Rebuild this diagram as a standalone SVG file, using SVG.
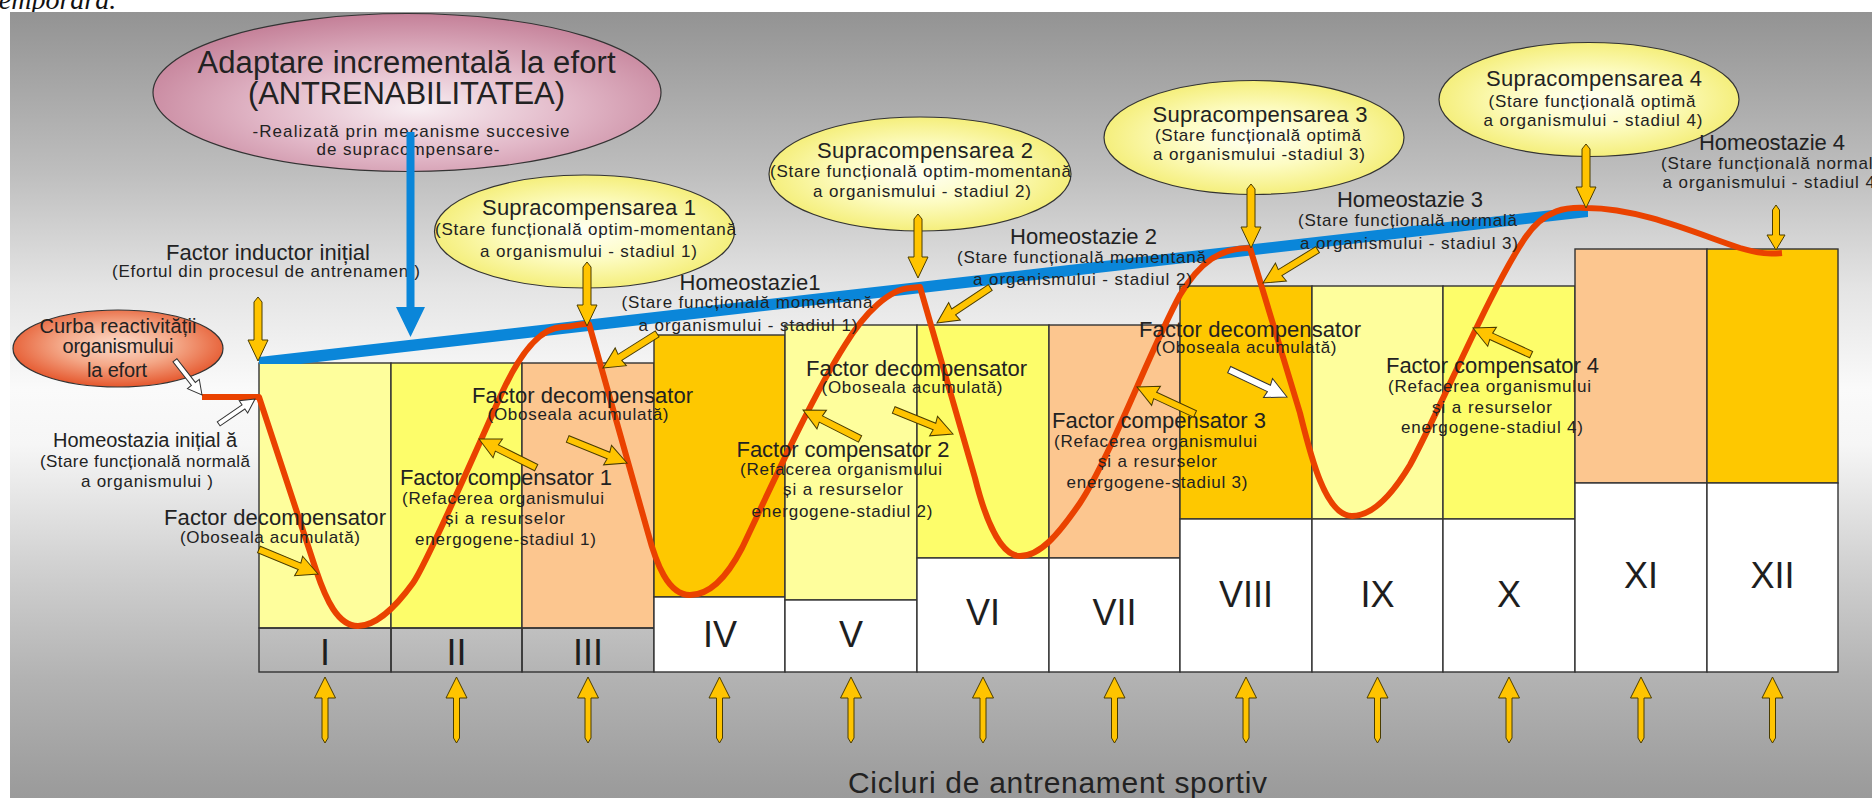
<svg xmlns="http://www.w3.org/2000/svg" width="1872" height="798" viewBox="0 0 1872 798">
<style>
  .t{font-family:"Liberation Sans",Arial,Helvetica,sans-serif;fill:#222;text-anchor:middle}
  .h{font-size:22px}
  .s{font-size:17px}
  .c{font-size:20px}
  .big{font-size:31px}
  .num{font-size:36px;fill:#1e1e1e}
  .col{stroke:#333;stroke-width:1.4}
  .pale{fill:#fefe9c}
  .yel{fill:#fdfd6a}
  .peach{fill:#fcc68f}
  .orange{fill:#fec800}
  .base{fill:#fff}
  .strip{fill:none}
  .ya{fill:#ffc400;stroke:#4a3c00;stroke-width:1}
  .wa{fill:#fff;stroke:#333;stroke-width:1}
  .ell{stroke:#333;stroke-width:1.2}
  .curve{fill:none;stroke:#ea4200;stroke-width:6;stroke-linejoin:round}
</style>
<defs>
  <linearGradient id="bg" x1="0" y1="12" x2="0" y2="798" gradientUnits="userSpaceOnUse">
    <stop offset="0" stop-color="#939393"/>
    <stop offset="0.2" stop-color="#bdbdbd"/>
    <stop offset="0.35" stop-color="#e4e4e4"/>
    <stop offset="0.48" stop-color="#fafafa"/>
    <stop offset="0.55" stop-color="#f6f6f6"/>
    <stop offset="0.7" stop-color="#d2d2d2"/>
    <stop offset="0.85" stop-color="#b2b2b2"/>
    <stop offset="1" stop-color="#9a9a9a"/>
  </linearGradient>
  <radialGradient id="gPink" cx="0.52" cy="0.6" r="0.6">
    <stop offset="0" stop-color="#f8eef2"/>
    <stop offset="0.5" stop-color="#e2b8c8"/>
    <stop offset="1" stop-color="#c48098"/>
  </radialGradient>
  <radialGradient id="gYellow" cx="0.5" cy="0.5" r="0.55">
    <stop offset="0" stop-color="#fffff4"/>
    <stop offset="0.45" stop-color="#fdfcc4"/>
    <stop offset="1" stop-color="#f3ec6e"/>
  </radialGradient>
  <radialGradient id="gCurba" cx="0.5" cy="0.45" r="0.55">
    <stop offset="0" stop-color="#fcdccc"/>
    <stop offset="0.5" stop-color="#f4a888"/>
    <stop offset="1" stop-color="#e5572d"/>
  </radialGradient>
  <!-- arrow shapes: tip at the origin -->
  <path id="arrDown" d="M0,0 L-10,-21 L-4,-21 L-4,-59 L0,-64 L4,-59 L4,-21 L10,-21 Z"/>
  <path id="arrDownS" d="M0,0 L-9,-15 L-3.5,-15 L-3.5,-40 L0,-45 L3.5,-40 L3.5,-15 L9,-15 Z"/>
  <path id="arrUp" d="M0,0 L10.5,21 L3,21 L3,61 L0,66 L-3,61 L-3,21 L-10.5,21 Z"/>
  <path id="arrBlock" d="M0,0 L-21,-10.5 L-20,-3.5 L-64,-3.5 L-64,3.5 L-20,3.5 L-21,10.5 Z"/>
  <path id="arrSmall" d="M0,0 L-14,-7.5 L-14,-2.5 L-44,-2.5 L-44,2.5 L-14,2.5 L-14,7.5 Z"/>
</defs>

<rect x="0" y="0" width="1872" height="798" fill="#fff"/>
<text x="-9" y="9" font-family="'Liberation Serif','Times New Roman',serif" font-style="italic" font-size="28" fill="#111">temporară.</text>
<rect x="10" y="12" width="1862" height="786" fill="url(#bg)"/>

<!-- training cycles -->
<g id="col-I">
  <rect class="col pale" x="259" y="363" width="132" height="265"/>
  <rect class="col strip" x="259" y="628" width="132" height="44"/>
  <text class="t num" x="325" y="665">I</text>
</g>
<g id="col-II">
  <rect class="col yel" x="391" y="363" width="131" height="265"/>
  <rect class="col strip" x="391" y="628" width="131" height="44"/>
  <text class="t num" x="456.5" y="665">II</text>
</g>
<g id="col-III">
  <rect class="col peach" x="522" y="363" width="132" height="265"/>
  <rect class="col strip" x="522" y="628" width="132" height="44"/>
  <text class="t num" x="588" y="665">III</text>
</g>
<g id="col-IV">
  <rect class="col orange" x="654" y="335" width="131" height="262"/>
  <rect class="col base" x="654" y="597" width="131" height="75"/>
  <text class="t num" x="720" y="647">IV</text>
</g>
<g id="col-V">
  <rect class="col pale" x="785" y="325" width="132" height="275"/>
  <rect class="col base" x="785" y="600" width="132" height="72"/>
  <text class="t num" x="851" y="647">V</text>
</g>
<g id="col-VI">
  <rect class="col yel" x="917" y="325" width="132" height="233"/>
  <rect class="col base" x="917" y="558" width="132" height="114"/>
  <text class="t num" x="983" y="625">VI</text>
</g>
<g id="col-VII">
  <rect class="col peach" x="1049" y="325" width="131" height="233"/>
  <rect class="col base" x="1049" y="558" width="131" height="114"/>
  <text class="t num" x="1114.5" y="625">VII</text>
</g>
<g id="col-VIII">
  <rect class="col orange" x="1180" y="286" width="132" height="233"/>
  <rect class="col base" x="1180" y="519" width="132" height="153"/>
  <text class="t num" x="1246" y="607">VIII</text>
</g>
<g id="col-IX">
  <rect class="col pale" x="1312" y="286" width="131" height="233"/>
  <rect class="col base" x="1312" y="519" width="131" height="153"/>
  <text class="t num" x="1377.5" y="607">IX</text>
</g>
<g id="col-X">
  <rect class="col yel" x="1443" y="286" width="132" height="233"/>
  <rect class="col base" x="1443" y="519" width="132" height="153"/>
  <text class="t num" x="1509" y="607">X</text>
</g>
<g id="col-XI">
  <rect class="col peach" x="1575" y="249" width="132" height="234"/>
  <rect class="col base" x="1575" y="483" width="132" height="189"/>
  <text class="t num" x="1641" y="588">XI</text>
</g>
<g id="col-XII">
  <rect class="col orange" x="1707" y="249" width="131" height="234"/>
  <rect class="col base" x="1707" y="483" width="131" height="189"/>
  <text class="t num" x="1772.5" y="588">XII</text>
</g>

<!-- trend of adaptation -->
<g id="trend">
  <polygon points="259,357 1588,206 1588,217 300,364 259,364" fill="#0a86d9"/>
</g>

<!-- reactivity curve -->
<g id="curve">
  <path class="curve" d="M202,397 H259 L316,570 C326,600 338,626 358,626 C375,626 395,608 413,583 C425,566 470,465 500,397 C520,352 540,328 562,327 C575,327 580,323 589,324 L648,533 C656,563 668,595 690,595 C710,595 728,575 742,548 C765,500 810,400 845,345 C865,312 890,289 910,288 L920,287 L975,478 C985,518 1000,556 1020,556 C1040,556 1058,535 1080,503 C1110,458 1150,350 1180,295 C1200,262 1220,248 1250,248 L1300,413 C1310,453 1325,516 1352,516 C1375,516 1395,490 1410,465 C1440,410 1490,290 1525,238 C1545,208 1568,207 1587,208 C1640,208 1700,235 1740,248 C1760,254 1770,254 1782,253"/>
</g>

<!-- labels -->
<g id="adaptare">
  <ellipse class="ell" cx="407" cy="92.5" rx="254" ry="79" fill="url(#gPink)"/>
  <text class="t big" x="406.5" y="73" textLength="418">Adaptare incrementală la efort</text>
  <text class="t big" x="406.5" y="104" textLength="317">(ANTRENABILITATEA)</text>
  <text class="t s" x="411" y="137" textLength="317">-Realizată prin mecanisme succesive</text>
  <text class="t s" x="408" y="155" textLength="183">de supracompensare-</text>
</g>
<g id="curba">
  <ellipse class="ell" cx="118" cy="348.5" rx="105" ry="38.5" fill="url(#gCurba)"/>
  <text class="t c" x="118" y="333" textLength="157">Curba reactivității</text>
  <text class="t c" x="118" y="353" textLength="111">organismului</text>
  <text class="t c" x="117" y="376.5" textLength="60">la efort</text>
</g>
<g id="inductor">
  <text class="t h" x="268" y="259.5" textLength="204">Factor inductor inițial</text>
  <text class="t s" x="266" y="277" textLength="308">(Efortul din procesul de antrenament)</text>
</g>
<g id="homeo0">
  <text class="t c" x="145" y="446.5" textLength="184">Homeostazia inițial ă</text>
  <text class="t s" x="145" y="466.5" textLength="210">(Stare funcțională normală</text>
  <text class="t s" x="147" y="486.5" textLength="132">a organismului )</text>
</g>
<g id="decomp1">
  <text class="t h" x="275" y="525" textLength="222">Factor decompensator</text>
  <text class="t s" x="270" y="543" textLength="180">(Oboseala acumulată)</text>
</g>
<g id="comp1">
  <text class="t h" x="506" y="485" textLength="212">Factor compensator 1</text>
  <text class="t s" x="503" y="503.5" textLength="202">(Refacerea organismului</text>
  <text class="t s" x="505" y="524" textLength="120">și a resurselor</text>
  <text class="t s" x="505.5" y="545" textLength="181">energogene-stadiul 1)</text>
</g>
<g id="decomp2">
  <text class="t h" x="582.5" y="402.5" textLength="221">Factor decompensator</text>
  <text class="t s" x="578" y="420" textLength="181">(Oboseala acumulată)</text>
</g>
<g id="supra1">
  <ellipse class="ell" cx="584.5" cy="231.5" rx="150" ry="56.5" fill="url(#gYellow)"/>
  <text class="t h" x="589" y="215" textLength="214">Supracompensarea 1</text>
  <text class="t s" x="585.5" y="235" textLength="301">(Stare funcțională optim-momentană</text>
  <text class="t s" x="588.5" y="257" textLength="217">a organismului - stadiul 1)</text>
</g>
<g id="homeo1">
  <text class="t h" x="750" y="290" textLength="141">Homeostazie1</text>
  <text class="t s" x="747" y="308" textLength="251">(Stare funcțională momentană</text>
  <text class="t s" x="748" y="331" textLength="219">a organismului - stadiul 1)</text>
</g>
<g id="comp2">
  <text class="t h" x="843" y="456.5" textLength="213">Factor compensator 2</text>
  <text class="t s" x="841" y="475" textLength="202">(Refacerea organismului</text>
  <text class="t s" x="843" y="495" textLength="120">și a resurselor</text>
  <text class="t s" x="842" y="516.5" textLength="181">energogene-stadiul 2)</text>
</g>
<g id="decomp3">
  <text class="t h" x="916.5" y="376" textLength="221">Factor decompensator</text>
  <text class="t s" x="912" y="393.3" textLength="181">(Oboseala acumulată)</text>
</g>
<g id="supra2">
  <ellipse class="ell" cx="920" cy="174" rx="151" ry="57" fill="url(#gYellow)"/>
  <text class="t h" x="925" y="158" textLength="216">Supracompensarea 2</text>
  <text class="t s" x="920.5" y="177" textLength="301">(Stare funcțională optim-momentană</text>
  <text class="t s" x="922" y="197" textLength="218">a organismului - stadiul 2)</text>
</g>
<g id="homeo2">
  <text class="t h" x="1083.5" y="244" textLength="147">Homeostazie 2</text>
  <text class="t s" x="1081.5" y="262.7" textLength="249">(Stare funcțională momentană</text>
  <text class="t s" x="1082.5" y="285" textLength="219">a organismului - stadiul 2)</text>
</g>
<g id="comp3">
  <text class="t h" x="1159" y="428" textLength="214">Factor compensator 3</text>
  <text class="t s" x="1155.5" y="446.7" textLength="203">(Refacerea organismului</text>
  <text class="t s" x="1157.5" y="467" textLength="119">și a resurselor</text>
  <text class="t s" x="1157" y="488" textLength="181">energogene-stadiul 3)</text>
</g>
<g id="decomp4">
  <text class="t h" x="1250" y="336.7" textLength="222">Factor decompensator</text>
  <text class="t s" x="1246" y="352.5" textLength="181">(Oboseala acumulată)</text>
</g>
<g id="supra3">
  <ellipse class="ell" cx="1254" cy="137.5" rx="150" ry="57" fill="url(#gYellow)"/>
  <text class="t h" x="1260" y="122" textLength="215">Supracompensarea 3</text>
  <text class="t s" x="1258" y="141" textLength="206">(Stare funcțională optimă</text>
  <text class="t s" x="1259" y="160" textLength="212">a organismului -stadiul 3)</text>
</g>
<g id="homeo3">
  <text class="t h" x="1410" y="206.7" textLength="146">Homeostazie 3</text>
  <text class="t s" x="1407.5" y="226" textLength="219">(Stare funcțională normală</text>
  <text class="t s" x="1409" y="249.3" textLength="218">a organismului - stadiul 3)</text>
</g>
<g id="comp4">
  <text class="t h" x="1492.5" y="373.3" textLength="213">Factor compensator 4</text>
  <text class="t s" x="1489.5" y="391.7" textLength="203">(Refacerea organismului</text>
  <text class="t s" x="1492" y="412.7" textLength="120">și a resurselor</text>
  <text class="t s" x="1492" y="433.3" textLength="182">energogene-stadiul 4)</text>
</g>
<g id="supra4">
  <ellipse class="ell" cx="1589" cy="99.5" rx="150" ry="57" fill="url(#gYellow)"/>
  <text class="t h" x="1594" y="86" textLength="216">Supracompensarea 4</text>
  <text class="t s" x="1592" y="106.5" textLength="207">(Stare funcțională optimă</text>
  <text class="t s" x="1593" y="126" textLength="219">a organismului - stadiul 4)</text>
</g>
<g id="homeo4">
  <text class="t h" x="1772" y="150" textLength="146">Homeostazie 4</text>
  <text class="t s" x="1772" y="169.3" textLength="222">(Stare funcțională normală</text>
  <text class="t s" x="1772" y="188.3" textLength="219">a organismului - stadiul 4)</text>
</g>
<g id="axis-title">
  <text class="t" x="1057.5" y="793" font-size="30" textLength="419">Cicluri de antrenament sportiv</text>
</g>

<!-- connectors -->
<g id="connectors">
  <path d="M406.5,132 H414.5 V307 H425 L410.5,337 L396,307 H406.5 Z" fill="#0a86d9"/>

  <use href="#arrDown" class="ya" transform="translate(258,361)"/>
  <use href="#arrDown" class="ya" transform="translate(587,326)"/>
  <use href="#arrDown" class="ya" transform="translate(918,278)"/>
  <use href="#arrDown" class="ya" transform="translate(1251,248)"/>
  <use href="#arrDown" class="ya" transform="translate(1586,208)"/>
  <use href="#arrDownS" class="ya" transform="translate(1776,250)"/>

  <use href="#arrBlock" class="ya" transform="translate(318,574) rotate(22.5)"/>
  <use href="#arrBlock" class="ya" transform="translate(479,439) rotate(206.6)"/>
  <use href="#arrBlock" class="ya" transform="translate(627,463) rotate(22.1)"/>
  <use href="#arrBlock" class="ya" transform="translate(603,368) rotate(147.8)"/>
  <use href="#arrBlock" class="ya" transform="translate(937,323) rotate(146.3)"/>
  <use href="#arrBlock" class="ya" transform="translate(803,410) rotate(206.9)"/>
  <use href="#arrBlock" class="ya" transform="translate(953,434) rotate(22.1)"/>
  <use href="#arrBlock" class="ya" transform="translate(1137,387) rotate(204.9)"/>
  <use href="#arrBlock" class="ya" transform="translate(1263,283) rotate(148.6)"/>
  <use href="#arrBlock" class="wa" transform="translate(1287,397) rotate(25.3)"/>
  <use href="#arrBlock" class="ya" transform="translate(1473,328) rotate(204.6)"/>

  <use href="#arrSmall" class="wa" transform="translate(202,395) rotate(52)"/>
  <use href="#arrSmall" class="wa" transform="translate(255,399) rotate(-34.4)"/>

  <use href="#arrUp" class="ya" transform="translate(325,677)"/>
  <use href="#arrUp" class="ya" transform="translate(456.5,677)"/>
  <use href="#arrUp" class="ya" transform="translate(588,677)"/>
  <use href="#arrUp" class="ya" transform="translate(719.5,677)"/>
  <use href="#arrUp" class="ya" transform="translate(851,677)"/>
  <use href="#arrUp" class="ya" transform="translate(983,677)"/>
  <use href="#arrUp" class="ya" transform="translate(1114.5,677)"/>
  <use href="#arrUp" class="ya" transform="translate(1246,677)"/>
  <use href="#arrUp" class="ya" transform="translate(1377.5,677)"/>
  <use href="#arrUp" class="ya" transform="translate(1509,677)"/>
  <use href="#arrUp" class="ya" transform="translate(1641,677)"/>
  <use href="#arrUp" class="ya" transform="translate(1772.5,677)"/>
</g>
</svg>
